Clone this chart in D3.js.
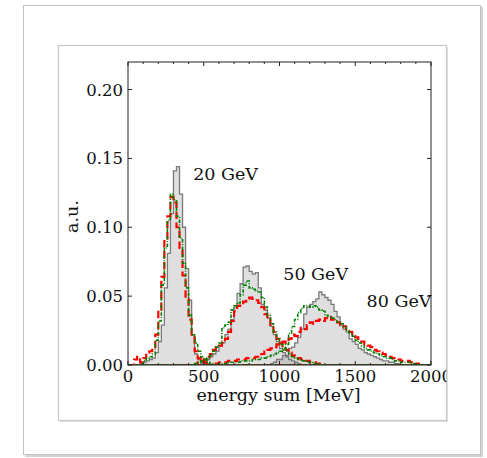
<!DOCTYPE html>
<html>
<head>
<meta charset="utf-8">
<script src="https://cdn.jsdelivr.net/npm/d3@7"></script>
<style>
  body { margin: 0; background: #fff; }
  text { font-family: "DejaVu Serif", serif; fill: #111; }
</style>
</head>
<body>
<svg id="chart" width="487" height="458"></svg>
<script>
// histogram bins are 20 MeV wide; each series starts at its first bin
const binWidth = 20;
const energyRange = [0, 2000];

const gray20Start = 80;
const gray20 = [0.001, 0.002, 0.003, 0.004, 0.005, 0.009, 0.017, 0.029, 0.056, 0.081, 0.110, 0.141, 0.144,
    0.124, 0.100, 0.070, 0.047, 0.022, 0.008, 0.004, 0.002, 0.001, 0.001];
const red20Start = 40;
const red20 = [0.004, 0.006, 0.002, 0.005, 0.009, 0.010, 0.011, 0.022, 0.040, 0.064, 0.090, 0.108, 0.122,
    0.118, 0.100, 0.085, 0.065, 0.048, 0.033, 0.020, 0.010, 0.005, 0.004, 0.002, 0.001];
const green20Start = 100;
const green20 = [0.003, 0.005, 0.006, 0.008, 0.018, 0.032, 0.058, 0.085, 0.105, 0.124, 0.120, 0.108, 0.092,
    0.074, 0.056, 0.036, 0.022, 0.016, 0.010, 0.006, 0.004, 0.002, 0.001];

const gray50Start = 480;
const gray50 = [0.001, 0.003, 0.004, 0.006, 0.008, 0.010, 0.014, 0.016, 0.022, 0.026, 0.033, 0.042, 0.052,
    0.059, 0.071, 0.072, 0.068, 0.066, 0.067, 0.056, 0.044, 0.040, 0.034, 0.028, 0.022, 0.017, 0.012,
    0.009, 0.006, 0.004, 0.003, 0.002, 0.001];
const red50Start = 460;
const red50 = [0.002, 0.003, 0.004, 0.006, 0.008, 0.011, 0.013, 0.014, 0.016, 0.019, 0.024, 0.032, 0.039,
    0.043, 0.044, 0.046, 0.048, 0.049, 0.048, 0.047, 0.045, 0.042, 0.037, 0.033, 0.028, 0.024, 0.019,
    0.016, 0.013, 0.011, 0.009, 0.007, 0.006, 0.005, 0.004, 0.003, 0.003, 0.002, 0.002, 0.001, 0.001];
const green50Start = 440;
const green50 = [0.001, 0.002, 0.003, 0.004, 0.005, 0.007, 0.010, 0.013, 0.016, 0.027, 0.029, 0.031, 0.040,
    0.043, 0.045, 0.051, 0.058, 0.061, 0.056, 0.055, 0.054, 0.053, 0.049, 0.042, 0.036, 0.030, 0.024,
    0.019, 0.015, 0.012, 0.010, 0.008, 0.006, 0.005, 0.004, 0.003, 0.003, 0.002, 0.002, 0.001, 0.001];

const gray80Start = 940;
const gray80 = [0.001, 0.002, 0.004, 0.004, 0.007, 0.007, 0.012, 0.013, 0.016, 0.020, 0.026, 0.037, 0.042,
    0.044, 0.046, 0.048, 0.053, 0.051, 0.049, 0.047, 0.044, 0.039, 0.035, 0.029, 0.026, 0.024, 0.019,
    0.017, 0.015, 0.012, 0.011, 0.009, 0.008, 0.007, 0.006, 0.005, 0.004, 0.003, 0.003, 0.002, 0.002,
    0.001, 0.001];
const red80Start = 560;
const red80 = [0.001, 0.001, 0.002, 0.002, 0.002, 0.003, 0.003, 0.003, 0.004, 0.004, 0.004, 0.005, 0.005,
    0.005, 0.006, 0.007, 0.008, 0.010, 0.011, 0.012, 0.013, 0.015, 0.016, 0.017, 0.016, 0.019, 0.022,
    0.021, 0.024, 0.027, 0.026, 0.029, 0.031, 0.030, 0.032, 0.033, 0.032, 0.034, 0.035, 0.033, 0.033,
    0.031, 0.029, 0.028, 0.025, 0.024, 0.021, 0.020, 0.018, 0.017, 0.015, 0.014, 0.013, 0.011, 0.010,
    0.009, 0.008, 0.007, 0.006, 0.005, 0.004, 0.004, 0.003, 0.003, 0.003, 0.002, 0.002, 0.001];
const green80Start = 600;
const green80 = [0.001, 0.001, 0.001, 0.002, 0.002, 0.002, 0.002, 0.003, 0.003, 0.003, 0.003, 0.004, 0.004,
    0.004, 0.005, 0.005, 0.006, 0.007, 0.008, 0.009, 0.010, 0.011, 0.015, 0.023, 0.028, 0.033, 0.038,
    0.041, 0.043, 0.043, 0.042, 0.043, 0.042, 0.040, 0.039, 0.036, 0.035, 0.034, 0.033, 0.031, 0.030,
    0.028, 0.025, 0.023, 0.021, 0.018, 0.016, 0.014, 0.012, 0.011, 0.010, 0.009, 0.008, 0.007, 0.006,
    0.005, 0.005, 0.004, 0.003, 0.003, 0.002, 0.002, 0.002, 0.001, 0.001];

const peakLabels = ['20 GeV', '50 GeV', '80 GeV'];
const peakLabelEnergy = [430, 1025, 1575];
const peakLabelValue = [0.134, 0.0615, 0.042];

const xTicks = [0, 500, 1000, 1500, 2000];
const yTicks = [0.00, 0.05, 0.10, 0.15, 0.20];

const svg = d3.select('#chart');

// outer and inner frames
svg.append('rect').attr('x', 25).attr('y', 7).attr('width', 458).attr('height', 450)
    .attr('fill', '#d4d4d4');
svg.append('rect').attr('x', 23.5).attr('y', 5.5).attr('width', 457).attr('height', 449)
    .attr('fill', '#fff').attr('stroke', '#c2c2c2');
svg.append('rect').attr('x', 60).attr('y', 47).attr('width', 388).attr('height', 375)
    .attr('fill', '#e0e0e0');
svg.append('rect').attr('x', 58.5).attr('y', 45.5).attr('width', 388).attr('height', 375)
    .attr('fill', '#fff').attr('stroke', '#c8c8c8').attr('stroke-width', 1.2);

svg.append('clipPath').attr('id', 'frameClip')
  .append('rect').attr('x', 59).attr('y', 46).attr('width', 387.5).attr('height', 374.5);

const margin = {left: 128, top: 62, right: 431, bottom: 365};
const x = d3.scaleLinear().domain(energyRange).range([margin.left, margin.right]);
const y = d3.scaleLinear().domain([0, 0.22]).range([margin.bottom, margin.top]);

const chart = svg.append('g').attr('clip-path', 'url(#frameClip)');

chart.append('clipPath').attr('id', 'plotClip')
  .append('rect').attr('x', margin.left).attr('y', margin.top)
    .attr('width', margin.right - margin.left).attr('height', margin.bottom - margin.top);

let nBins = (energyRange[1] - energyRange[0]) / binWidth;

let fullBins = (start, values) => {
    let bins = new Array(nBins).fill(0);
    values.forEach((v, i) => { bins[start / binWidth + i] = v; });
    return bins;
};

let stepPath = (bins) => {
    let pts = [[energyRange[0], 0]];
    bins.forEach((v, i) => {
        pts.push([i * binWidth, v]);
        pts.push([(i + 1) * binWidth, v]);
    });
    pts.push([energyRange[1], 0]);
    return d3.line().x(d => x(d[0])).y(d => y(d[1]))(pts);
};

const plot = chart.append('g').attr('clip-path', 'url(#plotClip)');

const grays = [[gray20Start, gray20], [gray50Start, gray50], [gray80Start, gray80]];
const reds = [[red20Start, red20], [red50Start, red50], [red80Start, red80]];
const greens = [[green20Start, green20], [green50Start, green50], [green80Start, green80]];

grays.forEach(([s, v]) => {
    plot.append('path')
        .attr('d', stepPath(fullBins(s, v)) + 'Z')
        .attr('fill', 'rgba(128,128,128,0.25)')
        .attr('stroke', '#7a7a7a')
        .attr('stroke-width', 1.3);
});

reds.forEach(([s, v]) => {
    plot.append('path')
        .attr('d', stepPath(fullBins(s, v)))
        .attr('fill', 'none')
        .attr('stroke', '#ff0000')
        .attr('stroke-width', 2.2)
        .attr('stroke-dasharray', '7.5,3.5');
});

greens.forEach(([s, v]) => {
    plot.append('path')
        .attr('d', stepPath(fullBins(s, v)))
        .attr('fill', 'none')
        .attr('stroke', '#008000')
        .attr('stroke-width', 1.6)
        .attr('stroke-dasharray', '3.5,1.5,1,1.5');
});

// axes box with inward ticks, matplotlib classic style
const axisColor = '#222';
chart.append('rect')
    .attr('x', margin.left).attr('y', margin.top)
    .attr('width', margin.right - margin.left).attr('height', margin.bottom - margin.top)
    .attr('fill', 'none').attr('stroke', axisColor).attr('stroke-width', 1);

let minorX = d3.range(0, 2001, 100);
minorX.forEach(e => {
    let len = e % 500 === 0 ? 4 : 2;
    chart.append('line').attr('x1', x(e)).attr('x2', x(e))
        .attr('y1', margin.bottom).attr('y2', margin.bottom - len).attr('stroke', axisColor);
    chart.append('line').attr('x1', x(e)).attr('x2', x(e))
        .attr('y1', margin.top).attr('y2', margin.top + len).attr('stroke', axisColor);
});
yTicks.forEach(v => {
    chart.append('line').attr('x1', margin.left).attr('x2', margin.left + 4)
        .attr('y1', y(v)).attr('y2', y(v)).attr('stroke', axisColor);
    chart.append('line').attr('x1', margin.right).attr('x2', margin.right - 4)
        .attr('y1', y(v)).attr('y2', y(v)).attr('stroke', axisColor);
});

chart.selectAll('.xlabel').data(xTicks).enter().append('text')
    .attr('x', d => x(d)).attr('y', margin.bottom + 17)
    .attr('text-anchor', 'middle').attr('font-size', 16.5)
    .text(d => d);

chart.selectAll('.ylabel').data(yTicks).enter().append('text')
    .attr('x', margin.left - 5).attr('y', d => y(d) + 6)
    .attr('text-anchor', 'end').attr('font-size', 16.5)
    .text(d => d3.format('.2f')(d));

chart.append('text')
    .attr('x', (margin.left + margin.right) / 2 - 1).attr('y', 401)
    .attr('text-anchor', 'middle').attr('font-size', 17.5)
    .text('energy sum [MeV]');

chart.append('text')
    .attr('transform', 'translate(78,' + ((margin.top + margin.bottom) / 2 + 3) + ') rotate(-90)')
    .attr('text-anchor', 'middle').attr('font-size', 17.5)
    .text('a.u.');

peakLabels.forEach((t, i) => {
    chart.append('text')
        .attr('x', x(peakLabelEnergy[i])).attr('y', y(peakLabelValue[i]))
        .attr('font-size', 17.5)
        .text(t);
});
</script>
</body>
</html>
